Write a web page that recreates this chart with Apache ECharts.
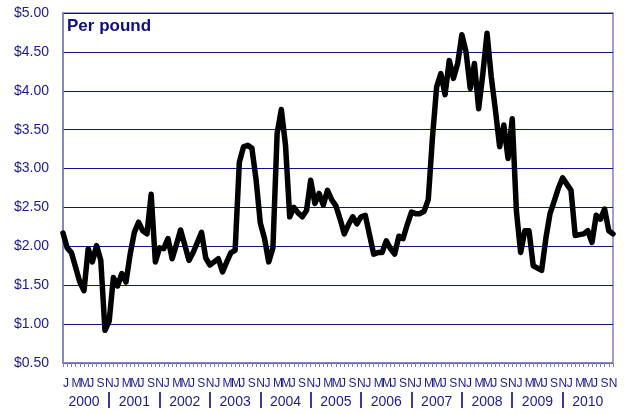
<!DOCTYPE html>
<html>
<head>
<meta charset="utf-8">
<script src="https://cdn.jsdelivr.net/npm/echarts@6/dist/echarts.min.js"></script>
<style>
html,body{margin:0;padding:0;background:#fff;}
#chart{width:624px;height:414px;}
</style>
</head>
<body>
<div id="chart"></div>
<script>
// Months Jan 2000 .. Dec 2010
const years = ['2000','2001','2002','2003','2004','2005','2006','2007','2008','2009','2010'];
const monthLetters = ['J','F','M','A','M','J','J','A','S','O','N','D'];
const yTicks = [0.5, 1, 1.5, 2, 2.5, 3, 3.5, 4, 4.5, 5];

const price2000 = [2.17,1.98,1.92,1.73,1.54,1.43,1.97,1.80,2.01,1.82,0.92,1.04];
const price2001 = [1.60,1.49,1.65,1.54,1.90,2.18,2.31,2.20,2.16,2.67,1.80,1.98];
const price2002 = [1.97,2.10,1.84,2.02,2.21,2.02,1.82,1.92,2.05,2.18,1.85,1.76];
const price2003 = [1.80,1.84,1.67,1.80,1.92,1.95,3.08,3.28,3.30,3.26,2.85,2.30];
const price2004 = [2.10,1.80,1.98,3.45,3.76,3.30,2.38,2.50,2.43,2.38,2.46,2.85];
const price2005 = [2.55,2.68,2.53,2.72,2.60,2.52,2.35,2.16,2.28,2.38,2.29,2.38];
const price2006 = [2.40,2.15,1.90,1.92,1.92,2.07,1.97,1.90,2.13,2.10,2.28,2.44];
const price2007 = [2.42,2.42,2.45,2.60,3.40,4.05,4.22,3.95,4.39,4.16,4.35,4.72];
const price2008 = [4.50,4.03,4.35,3.77,4.22,4.74,4.18,3.75,3.28,3.56,3.13,3.64];
const price2009 = [2.45,1.92,2.20,2.20,1.75,1.72,1.69,2.10,2.42,2.58,2.75,2.88];
const price2010 = [2.80,2.72,2.14,2.15,2.16,2.20,2.05,2.40,2.35,2.48,2.20,2.16];

const prices = [].concat(price2000, price2001, price2002, price2003, price2004,
  price2005, price2006, price2007, price2008, price2009, price2010);

const categories = [];
years.forEach(y => monthLetters.forEach((m, i) => categories.push(y + '-' + (i + 1))));

const navy = '#1b1b8f';
const lilac = '#7f7fc4';
const font = 'Liberation Sans, Arial, sans-serif';

const chart = echarts.init(document.getElementById('chart'), null, {renderer: 'canvas'});
chart.setOption({
  animation: false,
  backgroundColor: '#ffffff',
  title: {
    text: 'Per pound',
    left: 67, top: 18, padding: 0,
    textStyle: {fontFamily: font, fontSize: 17, fontWeight: 'bold', color: '#0d0d85'}
  },
  grid: {left: 63, right: 11, top: 13, bottom: 51, show: true, borderColor: lilac, borderWidth: 1.5, containLabel: false},
  xAxis: [{
    type: 'category',
    data: categories,
    boundaryGap: false,
    axisLine: {lineStyle: {color: lilac, width: 1.5}},
    axisTick: {show: true, interval: 0, length: 4, lineStyle: {color: lilac, width: 1}},
    axisLabel: {
      interval: 1,
      align: 'left',
      margin: 15,
      color: navy,
      fontFamily: font,
      fontSize: 12,
      formatter: (v, idx) => monthLetters[idx % 12]
    },
    splitLine: {show: false}
  }, {
    type: 'category',
    data: categories,
    boundaryGap: false,
    position: 'bottom',
    offset: 29,
    axisLine: {show: false},
    axisTick: {
      show: true, length: 16,
      interval: (idx) => idx % 12 === 11 && idx < categories.length - 1,
      lineStyle: {color: '#3a3aa4', width: 2}
    },
    axisLabel: {
      interval: (idx) => idx % 12 === 5,
      margin: 3,
      color: navy,
      fontFamily: font,
      fontSize: 14,
      formatter: (v, idx) => years[Math.floor(idx / 12)]
    },
    splitLine: {show: false}
  }],
  yAxis: {
    type: 'value',
    min: yTicks[0], max: yTicks[yTicks.length - 1], interval: 0.5,
    axisLine: {show: true, lineStyle: {color: lilac, width: 1.5}},
    axisTick: {show: false},
    axisLabel: {
      margin: 14,
      color: navy,
      fontFamily: font,
      fontSize: 14,
      formatter: v => '$' + v.toFixed(2)
    },
    splitLine: {show: true, lineStyle: {color: '#10108a', width: 1}}
  },
  series: [{
    type: 'line',
    data: prices,
    symbol: 'none',
    smooth: false,
    lineStyle: {color: '#000000', width: 5.5, join: 'round', cap: 'round'}
  }]
});
</script>
</body>
</html>
